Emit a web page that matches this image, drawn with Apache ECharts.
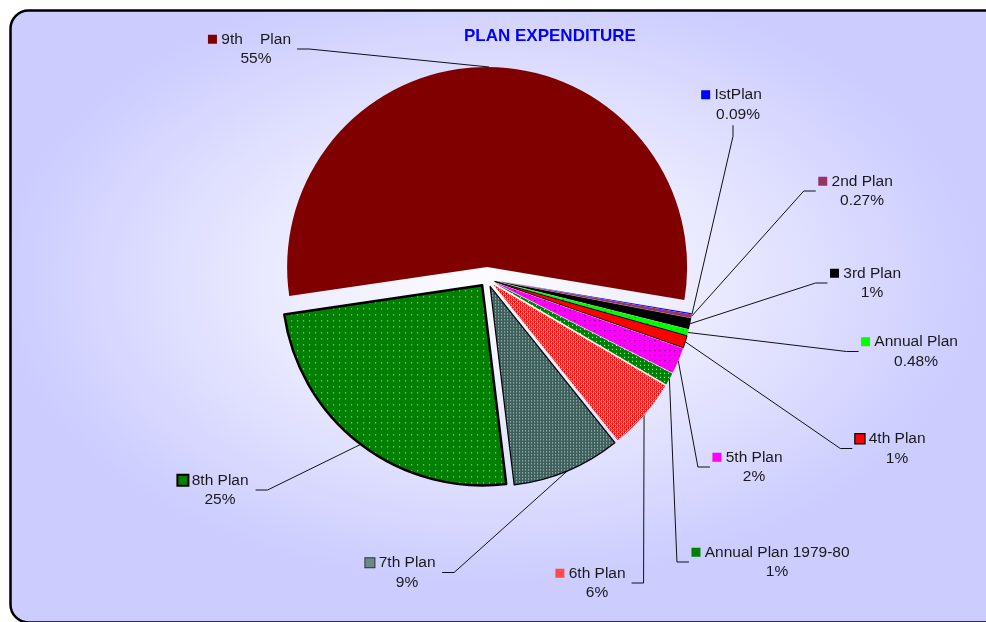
<!DOCTYPE html>
<html>
<head>
<meta charset="utf-8">
<script src="https://cdn.jsdelivr.net/npm/echarts@6/dist/echarts.min.js"></script>
<style>
html,body{margin:0;padding:0;background:#ffffff;}
#chart{width:986px;height:622px;}
</style>
</head>
<body>
<div id="chart"></div>
<script>
// ---- data (clockwise order, starting just below 3 o'clock) ----
const categories = ['IstPlan', '2nd Plan', '3rd Plan', 'Annual Plan', '4th Plan', '5th Plan',
  'Annual Plan 1979-80', '6th Plan', '7th Plan', '8th Plan', '9th    Plan'];
const expenditureShare = [0.09, 0.27, 0.9, 0.48, 1.0, 2.1, 1.0, 5.8, 8.8, 24.6, 54.96];
const chartTitle = 'PLAN EXPENDITURE';

// ---- layout / style (not data) ----
const FONT = '"Liberation Sans", Arial, Helvetica, sans-serif';
const CENTER = [487, 279];
const RADIUS = 200;
const START_ANGLE = -9.5;
const OFFSET_MAIN = 12;   // 9th plan explosion
const OFFSET_REST = 8;    // other slices explosion
const BIG_INDEX = 10;
const SPACER = 13;

const labelAnchors = [
  {x: 738, y: 104.5, side: 'bottom'},
  {x: 862, y: 191, side: 'left'},
  {x: 872, y: 283, side: 'left'},
  {x: 916, y: 351.5, side: 'left'},
  {x: 897, y: 448.5, side: 'left'},
  {x: 754, y: 467, side: 'left'},
  {x: 777, y: 562, side: 'left'},
  {x: 597, y: 583, side: 'right'},
  {x: 407, y: 572.5, side: 'right'},
  {x: 220, y: 490, side: 'right'},
  {x: 256, y: 49, side: 'right'}
];

function makePattern(w, h, base, pts) {
  const c = document.createElement('canvas');
  c.width = w; c.height = h;
  const g = c.getContext('2d');
  g.fillStyle = base; g.fillRect(0, 0, w, h);
  pts.forEach(function (p) { g.fillStyle = p[2]; g.fillRect(p[0], p[1], 1, 1); });
  return {image: c, repeat: 'repeat'};
}
function redPattern() {
  return makePattern(4, 4, '#ff0000', [
    [1, 1, '#ffffff'], [3, 3, '#ffffff'], [1, 3, '#ffe0e0'], [3, 1, '#ffe0e0'],
    [0, 2, '#ff9090'], [2, 0, '#ff9090']
  ]);
}

const sliceStyles = [
  {color: '#0000ff', borderWidth: 0},
  {color: '#993366', borderWidth: 0},
  {color: '#000000', borderWidth: 0},
  {color: makePattern(6, 6, '#00ff00', [[3, 3, '#207020']]), borderWidth: 0},
  {color: '#ff0000', borderColor: '#000', borderWidth: 1},
  {color: makePattern(5, 5, '#ff00ff', [[2, 2, '#000000']]), borderWidth: 0},
  {color: makePattern(4, 4, '#008000', [[1, 1, '#d8f0d8']]), borderWidth: 0},
  {color: redPattern(), borderWidth: 0},
  {color: makePattern(3, 3, '#3e605c', [[0, 0, '#c9dcdb']]), borderColor: '#000', borderWidth: 1.2},
  {color: makePattern(6, 6, '#008000', [[2, 2, '#c8eec8']]), borderColor: '#000', borderWidth: 2.5},
  {color: '#800000', borderWidth: 0}
];
const keyStyles = [
  {backgroundColor: '#0000ff'},
  {backgroundColor: '#993366'},
  {backgroundColor: '#000000'},
  {backgroundColor: '#00ff00'},
  {backgroundColor: '#ff0000', borderColor: '#000', borderWidth: 1.2},
  {backgroundColor: '#ff00ff'},
  {backgroundColor: '#008000'},
  {backgroundColor: '#ff4a4a'},
  {backgroundColor: '#6a8a86', borderColor: '#333', borderWidth: 1},
  {backgroundColor: '#008000', borderColor: '#000', borderWidth: 2},
  {backgroundColor: '#800000'}
];

const rich = {
  t: {fontSize: 15.5, fontFamily: FONT, color: '#1a1a1a', lineHeight: 19.5, verticalAlign: 'middle'},
  p: {fontSize: 15.5, fontFamily: FONT, color: '#1a1a1a', lineHeight: 19.5, verticalAlign: 'middle'},
  sp: {width: SPACER, lineHeight: 19.5}
};
keyStyles.forEach(function (k, i) {
  rich['k' + i] = Object.assign({width: 9, height: 9, verticalAlign: 'middle', lineHeight: 19.5}, k);
});

const TRANSPARENT = {color: 'rgba(0,0,0,0)', borderWidth: 0};

function sliceSeries(show, offset) {
  return {
    type: 'pie',
    center: CENTER,
    radius: RADIUS,
    startAngle: START_ANGLE,
    clockwise: true,
    selectedMode: 'multiple',
    selectedOffset: offset,
    avoidLabelOverlap: false,
    label: {show: false},
    labelLine: {show: false},
    emphasis: {disabled: true},
    data: categories.map(function (name, i) {
      return {
        name: name,
        value: expenditureShare[i],
        selected: show(i),
        itemStyle: show(i) ? sliceStyles[i] : TRANSPARENT
      };
    })
  };
}

function pctText(p) {
  return p < 0.5 ? p.toFixed(2) : String(Math.round(p));
}

const option = {
  animation: false,
  title: {
    text: chartTitle,
    left: 459,
    top: 23,
    textStyle: {color: '#0000ff', fontSize: 17, fontWeight: 'bold', fontFamily: FONT}
  },
  graphic: [
    {
      type: 'rect', z: -10, silent: true,
      scaleY: 0.62,
      shape: {x: 10.5, y: 10.5 / 0.62, width: 1000, height: 612 / 0.62, r: 24},
      style: {
        fill: new echarts.graphic.RadialGradient(0.48, 0.44, 0.62, [
          {offset: 0, color: '#fcfcff'},
          {offset: 0.3, color: '#eeeeff'},
          {offset: 0.8, color: '#ccccff'},
          {offset: 1, color: '#ccccff'}
        ])
      }
    },
    {
      type: 'rect', z: -9, silent: true,
      shape: {x: 10.5, y: 10.5, width: 1000, height: 612, r: 18},
      style: {fill: 'none', stroke: '#000', lineWidth: 2.5}
    }
  ],
  series: [
    sliceSeries(function (i) { return i === BIG_INDEX; }, OFFSET_MAIN),
    sliceSeries(function (i) { return i !== BIG_INDEX; }, OFFSET_REST),
    {
      type: 'pie',
      center: CENTER,
      radius: RADIUS,
      startAngle: START_ANGLE,
      clockwise: true,
      avoidLabelOverlap: false,
      emphasis: {disabled: true},
      itemStyle: TRANSPARENT,
      label: {
        show: true,
        position: 'outside',
        color: '#1a1a1a',
        formatter: function (p) {
          return '{k' + p.dataIndex + '|}{t| ' + p.name + '}{sp|}\n{p|' + pctText(p.percent) + '%}';
        },
        rich: rich
      },
      labelLine: {show: true, lineStyle: {color: '#111', width: 1}},
      labelLayout: function (params) {
        const i = params.dataIndex;
        const a = labelAnchors[i];
        const w = params.labelRect.width;
        const h = params.labelRect.height;
        const p0 = params.labelLinePoints[0];
        const dx = p0[0] - CENTER[0], dy = p0[1] - CENTER[1];
        const len = Math.sqrt(dx * dx + dy * dy) || 1;
        const off = i === BIG_INDEX ? OFFSET_MAIN : OFFSET_REST;
        const start = [p0[0] + dx / len * off, p0[1] + dy / len * off];
        let end, elbow;
        if (a.side === 'left') {
          end = [a.x - w / 2 - 2.5, a.y];
          elbow = [end[0] - 12, a.y];
        } else if (a.side === 'right') {
          end = [a.x + w / 2 - SPACER + 6, a.y];
          elbow = [end[0] + 12, a.y];
        } else {
          end = [a.x - 5, a.y + h / 2 + 3];
          elbow = [end[0], end[1] + 11];
        }
        return {
          x: a.x, y: a.y, align: 'center', verticalAlign: 'middle',
          labelLinePoints: [start, elbow, end]
        };
      },
      data: categories.map(function (name, i) {
        return {name: name, value: expenditureShare[i]};
      })
    }
  ]
};

const chart = echarts.init(document.getElementById('chart'), null, {renderer: 'canvas'});
chart.setOption(option);
</script>
</body>
</html>
